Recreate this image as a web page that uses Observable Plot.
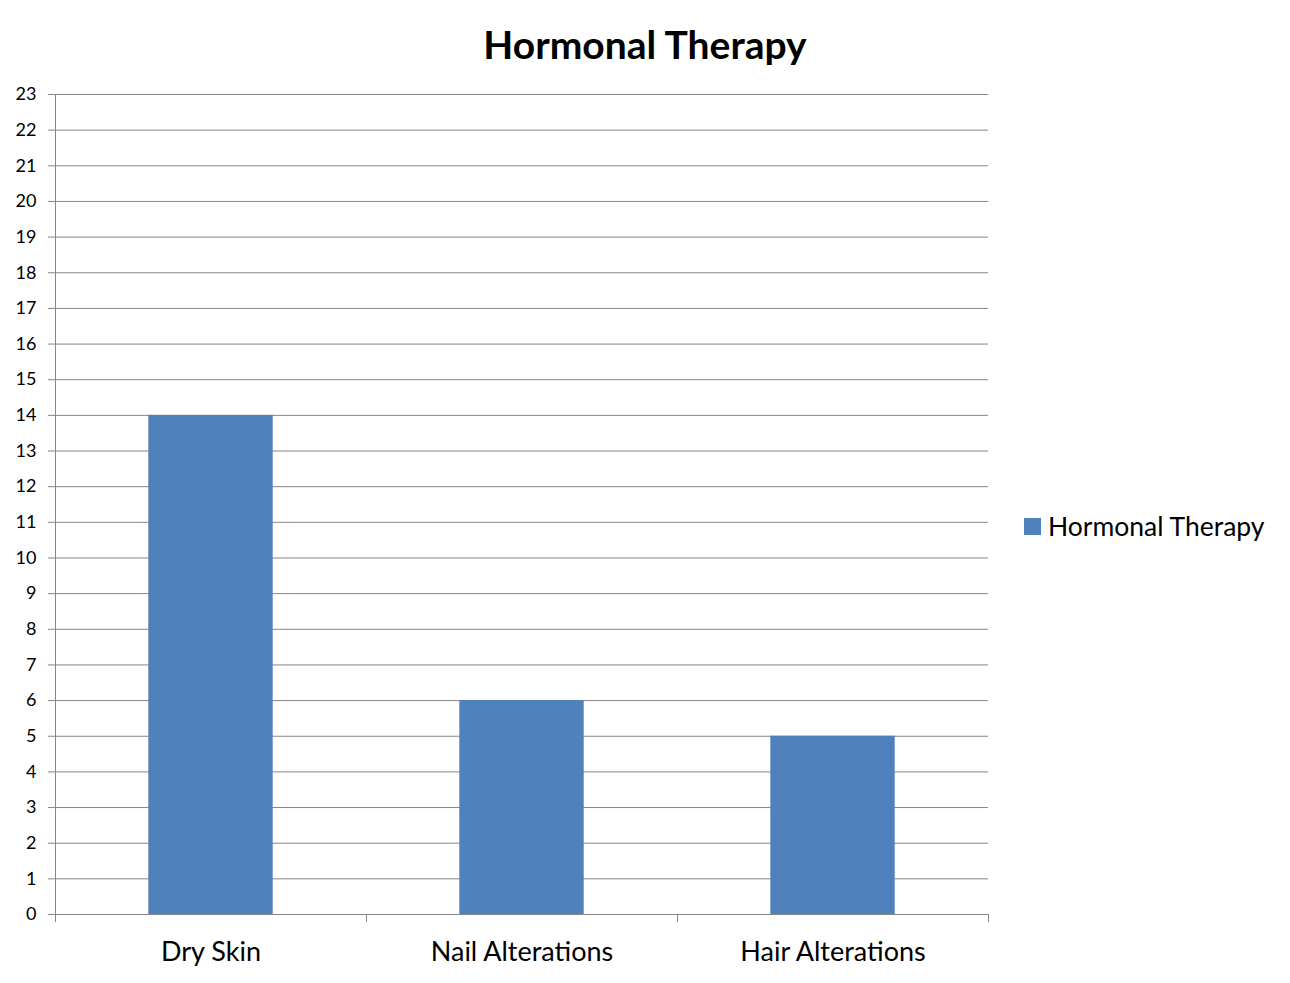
<!DOCTYPE html>
<html>
<head>
<meta charset="utf-8">
<script src="https://cdn.jsdelivr.net/npm/d3@7"></script>
<script src="https://cdn.jsdelivr.net/npm/@observablehq/plot@0.6"></script>
<style>
  html, body { margin: 0; padding: 0; background: #fff; }
  #wrap { position: relative; width: 1290px; height: 983px; font-family: Lato, "Open Sans", sans-serif; }
  #title { position: absolute; left: 0; width: 1290px; top: 20px; text-align: center; font-weight: bold; font-size: 39px; line-height: 48px; color: #000; }
  #legend { position: absolute; left: 1024px; top: 509px; font-size: 26.5px; line-height: 34px; color: #000; white-space: nowrap; display: flex; align-items: center; }
  #legend .sw { width: 17px; height: 17px; background: #4F81BD; margin-right: 7px; }
  #chart { position: absolute; left: 0; top: 0; }
</style>
</head>
<body>
<div id="wrap">
  <div id="chart"></div>
  <div id="title">Hormonal Therapy</div>
  <div id="legend"><div class="sw"></div><span>Hormonal Therapy</span></div>
</div>
<script>
const categories = ["Dry Skin", "Nail Alterations", "Hair Alterations"];
const values = [14, 6, 5];
const yTicks = d3.range(0, 24);
const seriesName = "Hormonal Therapy";

const data = categories.map((c, i) => ({category: c, index: i, value: values[i]}));
const grey = "#868686";

const chart = Plot.plot({
  width: 1290,
  height: 983,
  marginLeft: 55,
  marginRight: 302,
  marginTop: 94,
  marginBottom: 69,
  style: {fontFamily: "Lato, 'Open Sans', sans-serif", background: "#fff"},
  x: {domain: [0, categories.length], axis: null},
  y: {domain: [0, 23], axis: null},
  marks: [
    Plot.gridY(yTicks, {stroke: grey, strokeOpacity: 1, strokeWidth: 1}),
    Plot.rectY(data, {x1: d => d.index + 0.3, x2: d => d.index + 0.7, y: "value", fill: "#4F81BD"}),
    Plot.axisY({ticks: yTicks, label: null, tickSize: 7, tickPadding: 12, stroke: grey, fontSize: 18, color: "#000", tickFormat: d => String(d)}),
    Plot.ruleX([0], {stroke: grey}),
    Plot.ruleY([0], {stroke: grey}),
    Plot.axisX({ticks: d3.range(0, categories.length + 1), label: null, tickSize: 8, stroke: grey, tickFormat: () => ""}),
    Plot.text(data, {x: d => d.index + 0.5, text: "category", frameAnchor: "bottom", dy: 38, fontSize: 27, fill: "#000", lineAnchor: "middle"})
  ]
});
document.getElementById("chart").appendChild(chart);
</script>
</body>
</html>
